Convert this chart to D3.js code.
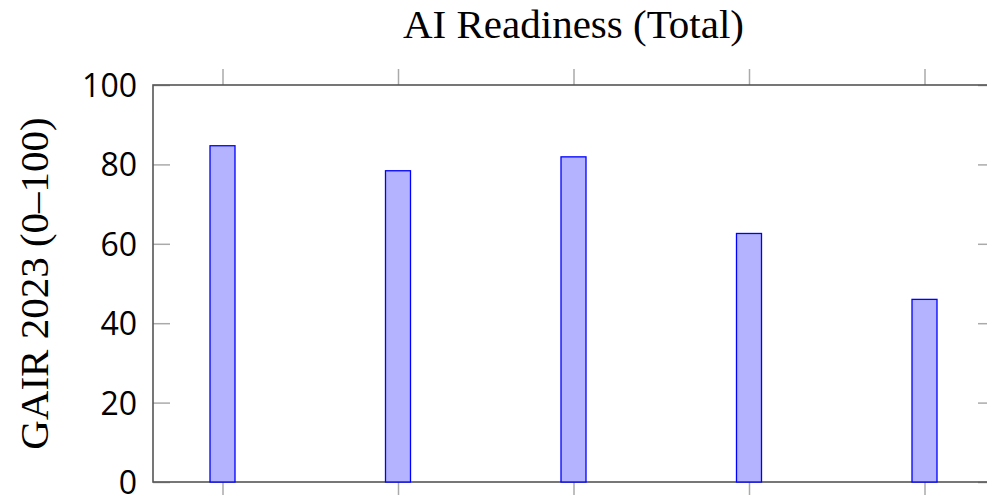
<!DOCTYPE html>
<html>
<head>
<meta charset="utf-8">
<script src="https://cdn.jsdelivr.net/npm/d3@7"></script>
<style>
  body { margin: 0; background: #fff; }
  .tick line { stroke: #aaa; stroke-width: 1.5; }
  .domain { display: none; }
</style>
</head>
<body>
<div id="chart"></div>
<script>
// data
var countries = ["United States", "United Kingdom", "Singapore", "India", "Country E"];
var scores = [84.7, 78.4, 81.9, 62.6, 46.0];
var yTicks = [0, 20, 40, 60, 80, 100];

var width = 987, height = 495;
var margin = { top: 85, right: -1, bottom: 13, left: 153 };
var plotW = width - margin.left - margin.right;
var plotH = height - margin.top - margin.bottom;

var svg = d3
  .select("#chart")
  .append("svg")
  .attr("width", width)
  .attr("height", height)
  .style("display", "block");

var g = svg.append("g").attr("transform", "translate(" + margin.left + "," + margin.top + ")");

// x positions of the category centres
var xScale = d3
  .scalePoint()
  .domain(countries)
  .range([69.5, 771.5]);

var yScale = d3.scaleLinear().domain([0, 100]).range([plotH, 0]);

// left axis, ticks point inwards
g.append("g")
  .attr("class", "y axis")
  .call(d3.axisLeft(yScale).tickValues(yTicks).tickSizeInner(-17).tickSizeOuter(0).tickPadding(16))
  .selectAll("text")
  .style("font-family", "'Open Sans', 'Noto Sans', sans-serif")
  .style("font-size", "32px")
  .attr("dy", "0.36em")
  .attr("fill", "#000");

// right axis, no labels
g.append("g")
  .attr("transform", "translate(" + plotW + ",0)")
  .call(d3.axisRight(yScale).tickValues(yTicks).tickSizeInner(-10).tickSizeOuter(0).tickFormat(function () { return ""; }));

// top axis, ticks outside
g.append("g")
  .call(d3.axisTop(xScale).tickSizeInner(16).tickSizeOuter(0).tickFormat(function () { return ""; }));

// bottom axis, labels fall below the picture
g.append("g")
  .attr("transform", "translate(0," + plotH + ")")
  .call(d3.axisBottom(xScale).tickSizeInner(16).tickSizeOuter(0).tickFormat(function () { return ""; }));

// frame
g.append("rect")
  .attr("x", 0)
  .attr("y", 0)
  .attr("width", plotW)
  .attr("height", plotH)
  .attr("fill", "none")
  .attr("stroke", "#555")
  .attr("stroke-width", 1.6);

//Bars
var barW = 25;
g.selectAll(".bar")
  .data(scores)
  .enter()
  .append("rect")
  .attr("class", "bar")
  .attr("x", function (d, i) { return xScale(countries[i]) - barW / 2; })
  .attr("y", function (d) { return yScale(d); })
  .attr("width", barW)
  .attr("height", function (d) { return yScale(0) - yScale(d); })
  .attr("fill", "#b3b3ff")
  .attr("stroke", "#0000ff")
  .attr("stroke-width", 1.3);

// title
svg.append("text")
  .attr("x", margin.left + xScale(countries[2]))
  .attr("y", 38)
  .attr("text-anchor", "middle")
  .style("font-family", "'Liberation Serif', 'Times New Roman', serif")
  .style("font-size", "41px")
  .text("AI Readiness (Total)");

// y label
svg.append("text")
  .attr("transform", "translate(48," + (margin.top + plotH / 2) + ") rotate(-90)")
  .attr("text-anchor", "middle")
  .style("font-family", "'Liberation Serif', 'Times New Roman', serif")
  .style("font-size", "41px")
  .text("GAIR 2023 (0\u2013100)");
</script>
</body>
</html>
